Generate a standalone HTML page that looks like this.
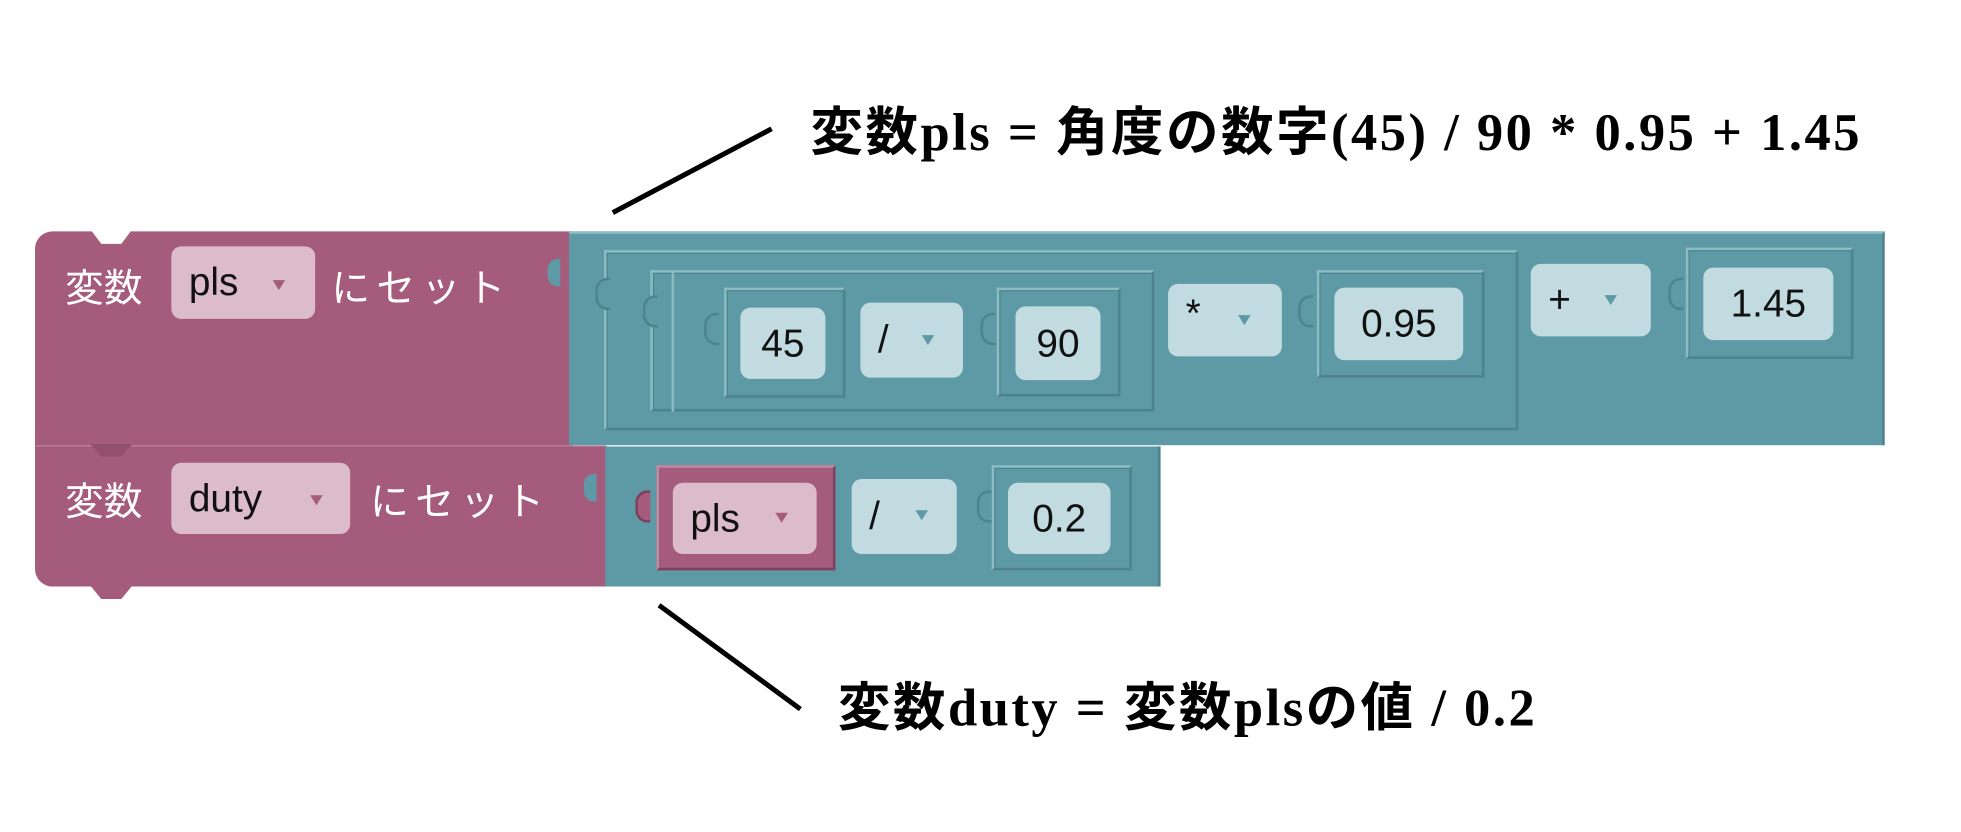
<!DOCTYPE html>
<html><head><meta charset="utf-8"><style>
html,body{margin:0;padding:0;background:#fff;overflow:hidden}
#w{position:absolute;left:0;top:0;width:1568px;height:665px;transform:scale(1.2506);transform-origin:0 0}
.a{position:absolute;box-sizing:border-box}
.mag{background:#a55b7b}
.teal{background:#5d9aa5}
.ob{border:2px solid #4c838d;border-top-color:#8bbcc4;border-left-color:#8bbcc4;box-shadow:inset 1px 1px 0 #4c838d}
.f{background:#c1dbe0;border-radius:8px;font-family:"Liberation Sans","Noto Sans CJK JP",sans-serif;font-size:31px;color:#111;display:flex;align-items:center;justify-content:center}
.fp{background:#dcbccb}
.dd{justify-content:flex-start;padding-left:14px}
.tri{position:absolute;width:0;height:0;border-left:5px solid transparent;border-right:5px solid transparent;border-top:8px solid #5d9aa5}
.trim{border-top-color:#a55b7b}
.wt{position:absolute;color:#fff;font-family:"Liberation Sans","Noto Sans CJK JP",sans-serif;font-size:31px;white-space:nowrap}
.lbl{position:absolute;font-family:"Liberation Serif","Noto Sans CJK JP",serif;font-weight:bold;font-size:42px;letter-spacing:2px;color:#000;white-space:nowrap}
.nub{position:absolute;width:10px;height:22px;border:2px solid #4c838d;border-right:none;border-radius:10px 0 0 10px;background:#5d9aa5}
</style></head><body><div id="w">
<svg class="a" style="left:0;top:0" width="1568" height="665">
<line x1="490" y1="170" x2="617" y2="103" stroke="#000" stroke-width="4"/>
<line x1="527" y1="484" x2="640" y2="567" stroke="#000" stroke-width="4"/>
</svg>
<div class="lbl" style="left:648px;top:72px">変数pls = 角度の数字(45) / 90 * 0.95 + 1.45</div>
<div class="lbl" style="left:670px;top:532px">変数duty = 変数plsの値 / 0.2</div>

<!-- top block -->
<div class="a mag" style="left:28px;top:185px;width:430px;height:172px;border-radius:14px 0 0 0"></div>
<svg class="a" style="left:70px;top:183px" width="40" height="14"><polygon points="2,0 36,0 27,12 11,12" fill="#fff"/></svg>
<div class="a teal" style="left:455px;top:185px;width:1052px;height:171px;border-top:2px solid #8bbcc4;border-right:2px solid #4c838d"></div>
<div class="wt" style="left:52px;top:205px">変数</div>
<div class="a f fp dd" style="left:137px;top:197px;width:115px;height:58px">pls</div>
<div class="tri trim" style="left:218px;top:224px"></div>
<div class="wt" style="left:265px;top:205px;letter-spacing:5px">にセット</div>
<div class="nub" style="left:436px;top:205px;border-color:#a55b7b;background:#5d9aa5"></div>

<div class="a ob" style="left:483px;top:200px;width:731px;height:144px"></div>
<div class="nub" style="left:476px;top:222px"></div>
<div class="a ob" style="left:520px;top:216px;width:403px;height:113px"></div>
<div class="nub" style="left:514px;top:236px"></div>
<div class="a ob" style="left:537px;top:216px;width:386px;height:113px;border:none;box-shadow:inset 2px 0 0 #8bbcc4"></div>
<div class="a ob" style="left:579px;top:230px;width:97px;height:88px"></div>
<div class="nub" style="left:563px;top:250px"></div>
<div class="a f" style="left:592px;top:246px;width:68px;height:57px">45</div>
<div class="a f dd" style="left:688px;top:242px;width:82px;height:60px">/</div>
<div class="tri" style="left:737px;top:268px"></div>
<div class="a ob" style="left:797px;top:230px;width:99px;height:87px"></div>
<div class="nub" style="left:784px;top:250px"></div>
<div class="a f" style="left:812px;top:245px;width:68px;height:59px">90</div>
<div class="a f dd" style="left:934px;top:227px;width:91px;height:58px;align-items:flex-start;padding-top:6px">*</div>
<div class="tri" style="left:990px;top:252px"></div>
<div class="a ob" style="left:1053px;top:216px;width:134px;height:86px"></div>
<div class="nub" style="left:1038px;top:236px"></div>
<div class="a f" style="left:1067px;top:230px;width:103px;height:58px">0.95</div>
<div class="a f dd" style="left:1224px;top:211px;width:96px;height:58px">+</div>
<div class="tri" style="left:1283px;top:236px"></div>
<div class="a ob" style="left:1348px;top:198px;width:134px;height:89px"></div>
<div class="nub" style="left:1334px;top:222px"></div>
<div class="a f" style="left:1362px;top:214px;width:104px;height:58px">1.45</div>

<!-- bottom block -->
<div class="a mag" style="left:28px;top:356px;width:457px;height:113px;border-radius:0 0 0 14px;border-top:1px solid #c08aa2"></div>
<svg class="a" style="left:70px;top:355px" width="40" height="14"><polygon points="2,0 36,0 27,10 11,10" fill="#93506e"/></svg>
<svg class="a" style="left:70px;top:468px" width="40" height="14"><polygon points="2,0 36,0 27,11 11,11" fill="#a55b7b"/></svg>
<div class="a teal" style="left:484px;top:357px;width:444px;height:112px;border-right:2px solid #4c838d"></div>
<div class="wt" style="left:52px;top:376px">変数</div>
<div class="a f fp dd" style="left:137px;top:370px;width:143px;height:57px">duty</div>
<div class="tri trim" style="left:248px;top:396px"></div>
<div class="wt" style="left:296px;top:376px;letter-spacing:5px">にセット</div>
<div class="nub" style="left:465px;top:377px;border-color:#a55b7b"></div>
<div class="a mag" style="left:525px;top:372px;width:143px;height:84px;border:2px solid #7e3f5c;border-top-color:#c08aa2;border-left-color:#c08aa2"></div>
<div class="nub" style="left:508px;top:392px;background:#a55b7b;border-color:#7e3f5c"></div>
<div class="a f fp dd" style="left:538px;top:386px;width:115px;height:57px">pls</div>
<div class="tri trim" style="left:620px;top:410px"></div>
<div class="a f dd" style="left:681px;top:383px;width:84px;height:60px">/</div>
<div class="tri" style="left:732px;top:408px"></div>
<div class="a ob" style="left:793px;top:372px;width:112px;height:84px"></div>
<div class="nub" style="left:781px;top:392px"></div>
<div class="a f" style="left:806px;top:386px;width:82px;height:57px">0.2</div>
</div></body></html>
